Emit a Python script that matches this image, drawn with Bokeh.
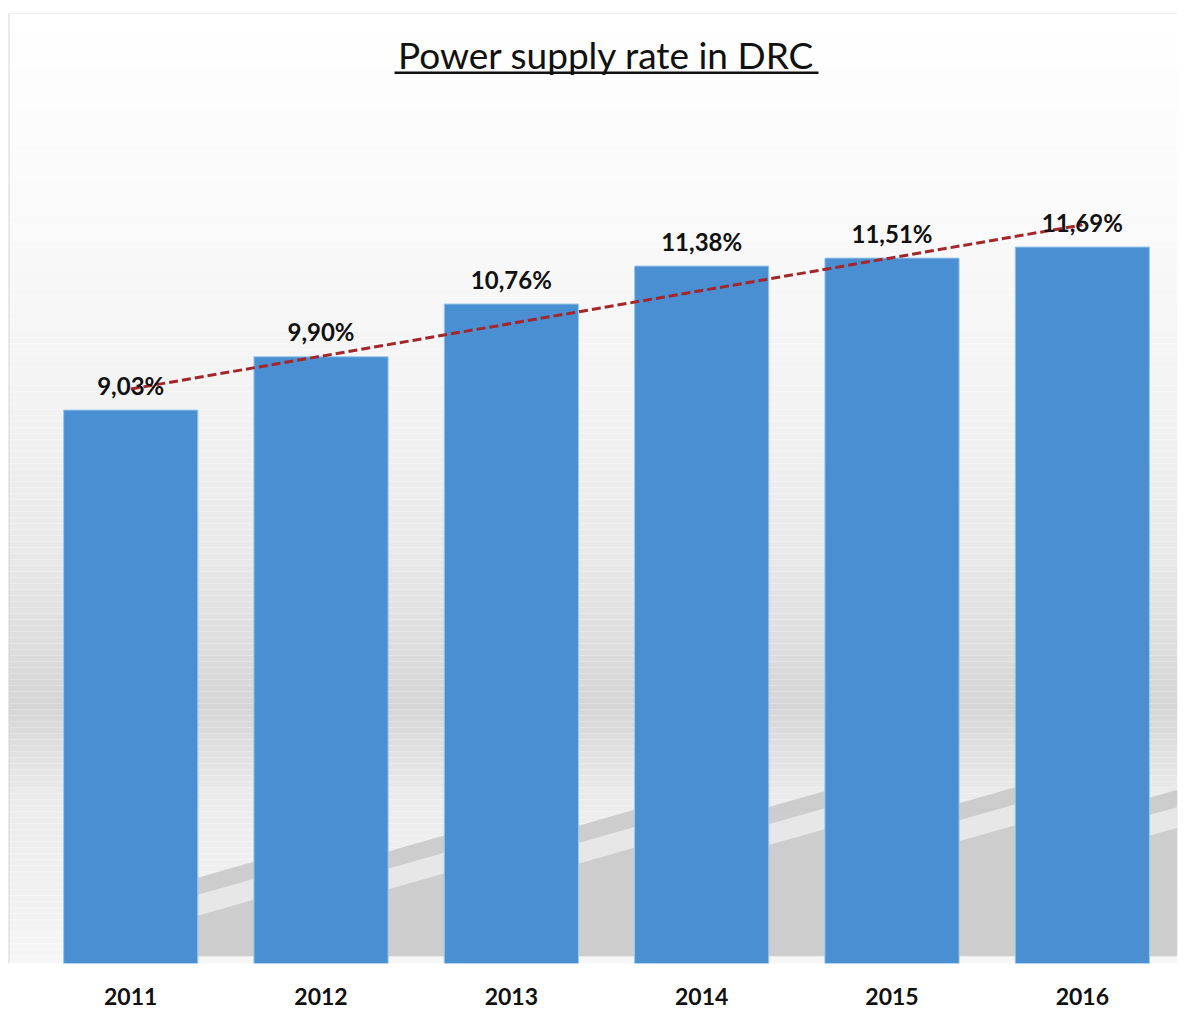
import numpy as np
from bokeh.plotting import figure
from bokeh.models import Range1d, BoxAnnotation, Span, Label, ColumnDataSource, FixedTicker
from bokeh.core.properties import value
from bokeh.embed import file_html
from bokeh.resources import INLINE

# ---- data ----
years = ["2011", "2012", "2013", "2014", "2015", "2016"]
rates = [9.03, 9.90, 10.76, 11.38, 11.51, 11.69]
rate_labels = ["9,03%", "9,90%", "10,76%", "11,38%", "11,51%", "11,69%"]
title_text = "Power supply rate in DRC"

# ---- layout (pixels) ----
W, H = 1191, 1021
FL, FR, FT, FB = 8, 1177, 13, 963
X0, X1 = -0.642, 5.5
Y0, Y1 = 0.0, 15.5
BAR_W = 0.705

ppx = (FR - FL) / (X1 - X0)
ppy = (FB - FT) / (Y1 - Y0)
def xd(px):
    return X0 + (px - FL) / ppx
def yd(py):
    return Y0 + (FB - py) / ppy

p = figure(width=W, height=H, output_backend="svg", toolbar_location=None,
           x_range=Range1d(X0, X1), y_range=Range1d(Y0, Y1),
           min_border_left=FL, min_border_right=W - FR,
           min_border_top=FT, min_border_bottom=H - FB,
           y_axis_location=None)
p.outline_line_color = None
p.grid.visible = False
p.background_fill_color = "white"
p.border_fill_color = "white"

# ---- background gradient (decoration) ----
stops_px = [963, 900, 800, 760, 705, 650, 550, 400, 200, 13]
stops_col = ["#f6f6f6", "#f1f1f1", "#ececec", "#e3e3e3", "#d5d5d5",
             "#dddddd", "#e9e9e9", "#f3f3f3", "#fafafa", "#ffffff"]
def hex2rgb(h):
    return [int(h[i:i + 2], 16) for i in (1, 3, 5)]
rgbs = np.array([hex2rgb(c) for c in stops_col], dtype=float)
sp = np.array(stops_px, dtype=float)
band = 6
for top in range(FT, FB, band):
    bot = min(top + band, FB)
    mid = (top + bot) / 2
    c = [np.interp(mid, sp[::-1], rgbs[::-1, k]) for k in range(3)]
    col = "#%02x%02x%02x" % tuple(int(round(v)) for v in c)
    p.add_layout(BoxAnnotation(left=X0, right=X1, top=yd(top), bottom=yd(bot),
                               fill_color=col, fill_alpha=1.0, line_color=None,
                               level="underlay"))

# ---- bar shadows (decoration derived from bars) ----
xs_idx = list(range(len(years)))
gap = 1 - BAR_W
sh_xs, sh_ys, lb_xs, lb_ys = [], [], [], []
for i, v in zip(xs_idx, rates):
    R = i + BAR_W / 2
    hs = 1.40 + (v - 9.03) * 0.49
    right = min(R + gap + 0.1, X1)
    rise = 0.35 * (right - R) / (gap + 0.1)
    sh_xs.append([R, R, right, right])
    sh_ys.append([0.12, hs, hs + rise, 0.12])
    lb_xs.append([R, R, right, right])
    lb_ys.append([hs - 0.62, hs - 0.28, hs - 0.28 + rise, hs - 0.62 + rise])
p.patches(sh_xs, sh_ys, fill_color="#c9c9c9", fill_alpha=0.9, line_color=None)
p.patches(lb_xs, lb_ys, fill_color="#ebebeb", fill_alpha=0.85, line_color=None)

# ---- bars ----
src = ColumnDataSource(dict(x=xs_idx, top=rates, lab=rate_labels))
p.vbar(x="x", top="top", width=BAR_W, bottom=0, source=src,
       fill_color="#4a8fd1", line_color="#9cc8ee", line_width=1)

# ---- linear trendline ----
coef = np.polyfit(xs_idx, rates, 1)
tx = [xs_idx[0], xs_idx[-1]]
ty = [coef[0] * t + coef[1] for t in tx]
p.line(tx, ty, line_color="#a3262c", line_width=3, line_dash="9 4")

# ---- value labels ----
p.text(x="x", y="top", text="lab", source=src, text_align="center",
       text_baseline="alphabetic", y_offset=-25,
       text_font=value("Lato"), text_font_style="bold",
       text_font_size="24px", text_color="#111111")

# ---- axis ----
xa = p.xaxis[0]
xa.ticker = FixedTicker(ticks=xs_idx)
xa.major_label_overrides = {i: y for i, y in zip(xs_idx, years)}
xa.major_label_text_font = "Lato"
xa.major_label_text_font_style = "bold"
xa.major_label_text_font_size = "23px"
xa.major_label_text_color = "#111111"
xa.major_label_standoff = 18
xa.axis_line_color = None
xa.major_tick_line_color = None
xa.minor_tick_line_color = None

# ---- frame lines ----
p.add_layout(Span(location=X0, dimension="height", line_color="#d6d6d6", line_width=2))
p.add_layout(Span(location=Y1, dimension="width", line_color="#dedede", line_width=1))

# ---- title with underline ----
p.add_layout(Label(x=xd(606), y=yd(54), text=title_text,
                   text_align="center", text_baseline="alphabetic",
                   text_font="Lato", text_font_size="37px", text_color="#111111"))
p.add_layout(BoxAnnotation(left=xd(394), right=xd(818), top=yd(71), bottom=yd(73.5),
                           fill_color="#111111", fill_alpha=1.0, line_color=None))

open("out.html", "w").write(file_html(p, INLINE))
